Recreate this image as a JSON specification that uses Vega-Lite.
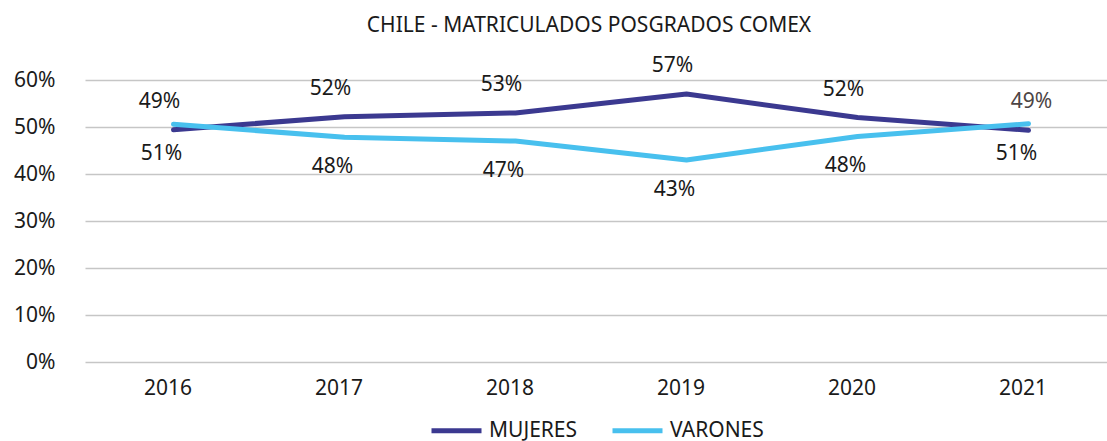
{
  "$schema": "https://vega.github.io/schema/vega-lite/v6.json",
  "width": 1022,
  "height": 282,
  "autosize": {"type": "none"},
  "padding": {"left": 85, "top": 80, "right": 0, "bottom": 79},
  "background": "white",
  "config": {"view": {"stroke": null}, "font": "Noto Sans"},
  "title": {
    "text": "CHILE - MATRICULADOS POSGRADOS COMEX",
    "fontSize": 21,
    "fontWeight": "normal",
    "color": "#1a1a1a",
    "offset": 2,
    "baseline": "alphabetic",
    "frame": "group",
    "anchor": "middle",
    "dx": -7
  },
  "data": {
    "values": [
      {"year": 2016, "serie": "MUJERES", "value": 0.494},
      {"year": 2017, "serie": "MUJERES", "value": 0.522},
      {"year": 2018, "serie": "MUJERES", "value": 0.530},
      {"year": 2019, "serie": "MUJERES", "value": 0.570},
      {"year": 2020, "serie": "MUJERES", "value": 0.520},
      {"year": 2021, "serie": "MUJERES", "value": 0.493},
      {"year": 2016, "serie": "VARONES", "value": 0.506},
      {"year": 2017, "serie": "VARONES", "value": 0.478},
      {"year": 2018, "serie": "VARONES", "value": 0.470},
      {"year": 2019, "serie": "VARONES", "value": 0.430},
      {"year": 2020, "serie": "VARONES", "value": 0.480},
      {"year": 2021, "serie": "VARONES", "value": 0.507}
    ]
  },
  "encoding": {
    "x": {
      "field": "year",
      "type": "quantitative",
      "scale": {"domain": [2015.4825, 2021.459], "nice": false, "zero": false},
      "axis": {
        "title": null,
        "values": [2016, 2017, 2018, 2019, 2020, 2021],
        "format": "d",
        "domain": false,
        "ticks": false,
        "grid": false,
        "labelAngle": 0,
        "labelFontSize": 21,
        "labelColor": "#1a1a1a",
        "labelPadding": 15,
        "labelOffset": -6,
        "labelFlush": false,
        "labelOverlap": false
      }
    },
    "y": {
      "field": "value",
      "type": "quantitative",
      "scale": {"domain": [0, 0.6], "nice": false},
      "axis": {
        "title": null,
        "values": [0, 0.1, 0.2, 0.3, 0.4, 0.5, 0.6],
        "format": ".0%",
        "domain": false,
        "ticks": false,
        "labelFontSize": 21,
        "labelColor": "#1a1a1a",
        "labelPadding": 30,
        "gridColor": "#c6c6c6",
        "gridWidth": 1.3
      }
    }
  },
  "layer": [
    {
      "mark": {"type": "line", "strokeWidth": 5, "strokeCap": "round", "strokeJoin": "round"},
      "encoding": {
        "color": {
          "field": "serie",
          "type": "nominal",
          "scale": {"domain": ["MUJERES", "VARONES"], "range": ["#3B3990", "#48C0EE"]},
          "legend": {
            "orient": "none",
            "legendX": 344,
            "legendY": 323,
            "direction": "horizontal",
            "title": null,
            "symbolType": "stroke",
            "symbolSize": 2500,
            "symbolStrokeWidth": 5,
            "labelFontSize": 21,
            "labelColor": "#1a1a1a",
            "labelOffset": 5,
            "columnPadding": 24
          }
        }
      }
    },
    {
      "transform": [{"filter": "datum.serie == 'MUJERES' && datum.year != 2021"}],
      "mark": {"type": "text", "dx": -14, "dy": -28, "baseline": "middle", "fontSize": 21, "color": "#1a1a1a"},
      "encoding": {"text": {"field": "value", "type": "quantitative", "format": ".0%"}}
    },
    {
      "transform": [{"filter": "datum.serie == 'MUJERES' && datum.year == 2021"}],
      "mark": {"type": "text", "dx": 3, "dy": -28, "baseline": "middle", "fontSize": 21, "color": "#4d4545"},
      "encoding": {"text": {"field": "value", "type": "quantitative", "format": ".0%"}}
    },
    {
      "transform": [{"filter": "datum.serie == 'VARONES'"}],
      "mark": {"type": "text", "dx": -12, "dy": 30, "baseline": "middle", "fontSize": 21, "color": "#1a1a1a"},
      "encoding": {"text": {"field": "value", "type": "quantitative", "format": ".0%"}}
    }
  ]
}
